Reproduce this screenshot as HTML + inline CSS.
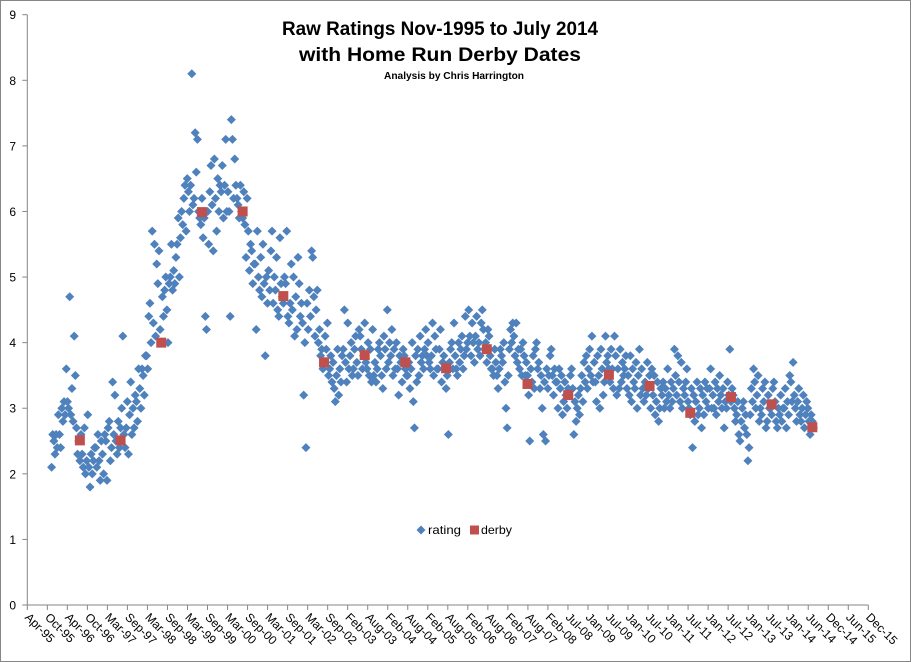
<!DOCTYPE html>
<html><head><meta charset="utf-8"><style>
html,body{margin:0;padding:0;background:#fff}
svg{display:block;font-family:"Liberation Sans",sans-serif}
</style></head><body>
<svg id="chart" width="911" height="662" viewBox="0 0 911 662">
<rect x="0.5" y="0.5" width="910" height="661" fill="#fff" stroke="#868686"/>
<text x="440" y="35" text-anchor="middle" font-size="19" font-weight="bold" textLength="316" lengthAdjust="spacingAndGlyphs">Raw Ratings Nov-1995 to July 2014</text>
<text x="440" y="61" text-anchor="middle" font-size="19" font-weight="bold" textLength="282" lengthAdjust="spacingAndGlyphs">with Home Run Derby Dates</text>
<text x="454" y="79" text-anchor="middle" font-size="10" font-weight="bold" textLength="140" lengthAdjust="spacingAndGlyphs">Analysis by Chris Harrington</text>
<g id="axes"></g>
<g id="marks"></g>
<g>
<path d="M421,525.5 L425.5,530 L421,534.5 L416.5,530 Z" fill="#4F81BD"/>
<text x="428" y="534" font-size="12" textLength="33" lengthAdjust="spacingAndGlyphs">rating</text>
<rect x="470" y="525.5" width="9" height="9" fill="#C0504D"/>
<text x="481" y="534" font-size="12" textLength="31" lengthAdjust="spacingAndGlyphs">derby</text>
</g>
</svg>
<script>
// Ratings: one inner array per month, starting Nov 1995 (weekly observations)
const ratingStartYear = 1995;
const ratingStartMonth = 10; // 0-based: November
const ratingMonths = [
[2.1,2.6,2.5],[2.3,2.6,2.4],
[2.9,2.6,2.4],[3.0,2.8,3.1],[2.9,3.6,3.1],[3.0,4.7,2.9],[3.3,2.8,4.1],[3.5,2.7,2.3],[2.5,2.2,2.6],[2.3,2.1,2.7],[2.0,2.2,2.9],[2.1,1.8,2.3],[2.0,2.2,2.4],[2.4,2.1,2.6],
[2.2,1.9,2.5],[2.3,2.0,2.6],[2.5,1.9,2.7],[2.8,2.2,2.4],[3.4,2.6,3.2],[2.5,2.3,2.8],[2.4,2.7,3.0],[4.1,2.6,2.4],[2.7,3.1,2.3],[2.9,3.4,2.6],[3.0,2.7,3.2],[3.1,2.8,3.6],
[3.3,3.0,3.6],[3.5,3.2,3.8],[3.8,3.6,4.4],[4.6,4.0,5.7],[4.3,5.5,4.1],[5.2,4.9,5.4],[4.2,4.0,4.7],[4.4,4.8,5.0],[4.5,4.0,4.9],[5.0,5.5,4.8],[5.1,4.9,5.3],[5.5,5.9,5.0],
[5.6,6.0,5.8],[6.2,6.4,5.7],[6.5,6.3,6.0],[6.4,8.1,6.1],[6.2,7.2,6.6],[7.1,6.0,5.9],[5.8,6.2,5.6],[5.9,4.4,4.2],[6.0,5.5,6.3],[6.7,6.1,5.4],[6.8,6.2,5.7],[6.5,6.0,6.4],
[6.3,6.7,5.9],[6.4,7.1,6.0],[6.3,6.0,4.4],[7.4,7.1,6.2],[6.8,6.4,6.2],[6.1,5.9,6.4],[6.0,5.9,6.3],[5.8,5.3,6.2],[5.7,5.1,5.5],[5.4,4.9,5.2],[5.2,4.2,5.7],[5.0,4.8,5.3],
[4.7,5.5,4.9],[3.8,5.0,4.6],[5.1,4.8,5.4],[5.7,4.6,5.0],[4.8,5.3,4.5],[4.4,5.6,4.9],[4.7,4.6,5.0],[4.9,5.7,4.4],[4.3,4.6,5.2],[4.5,5.0,4.1],[4.7,4.2,5.3],[4.9,4.4,4.6],
[4.3,3.2,4.0],[2.4,4.6,4.2],[4.8,4.4,5.4],[5.3,4.7,4.1],[4.5,4.8,4.0],[4.2,3.8,3.9],[3.6,3.7,4.1],[3.9,4.3,3.5],[3.6,3.8,3.4],[3.7,3.3,3.1],[3.5,3.9,3.2],[3.6,3.4,3.8],
[3.9,4.5,3.7],[3.4,4.3,3.6],[3.8,4.0,3.5],[3.6,3.9,4.1],[3.7,3.5,4.2],[4.1,3.9,3.6],[3.8,4.3,3.7],[3.6,4.0,3.5],[3.9,3.4,4.2],[3.5,3.7,3.4],[3.6,3.9,4.0],[3.8,3.5,3.3],
[4.1,3.9,3.6],[4.5,3.7,4.0],[3.8,4.2,3.5],[3.9,3.6,4.0],[3.6,3.2,3.8],[3.7,3.4,3.9],[3.8,3.6,3.5],[3.5,3.7,3.3],[3.6,4.0,3.1],[2.7,3.8,3.4],[3.9,3.5,4.1],[3.7,3.8,3.6],
[3.9,4.2,3.8],[4.0,3.7,3.6],[3.8,4.3,3.5],[4.1,3.9,3.6],[3.6,3.9,4.2],[3.4,3.7,3.8],[3.6,3.3,3.5],[2.6,3.7,3.9],[4.0,3.6,4.3],[3.8,3.6,3.5],[4.0,3.7,3.9],[4.1,3.6,3.8],
[4.4,3.9,4.0],[4.5,4.1,3.8],[4.3,4.0,3.7],[4.1,4.4,3.9],[4.0,3.8,4.3],[4.5,4.2,3.9],[4.0,3.7,4.2],[4.1,3.8,3.6],[3.6,3.5,3.9],[3.7,3.5,3.3],[3.6,3.9,3.8],[3.7,4.0,3.4],
[3.0,2.7,3.5],[3.9,4.2,4.0],[4.3,4.1,3.8],[4.3,3.7,3.9],[3.6,3.9,3.5],[4.0,3.8,3.5],[3.7,3.5,3.2],[2.5,3.6,3.4],[3.8,3.3,3.9],[4.0,3.6,3.7],[3.3,3.5,3.0],[2.6,3.4,2.5],
[3.6,3.3,3.5],[3.8,3.9,3.5],[3.2,3.6,3.4],[3.4,3.0,3.6],[3.3,3.5,2.9],[3.1,3.4,3.2],[3.0,3.3,3.2],[3.5,3.6,3.3],[2.6,3.1,2.8],[3.0,3.2,2.9],[3.3,3.5,3.1],[3.7,3.4,3.8],
[3.3,3.6,3.9],[3.5,4.1,3.4],[3.7,3.4,3.1],[3.8,3.5,3.0],[3.9,3.6,3.2],[3.4,4.1,3.7],[3.8,3.6,3.4],[3.9,3.6,3.3],[4.1,3.8,3.2],[3.6,3.3,3.9],[3.4,3.7,3.5],[3.6,3.8,3.3],
[3.5,3.2,3.8],[3.1,3.6,3.4],[3.3,3.7,3.0],[3.5,3.9,3.2],[3.6,3.3,3.1],[3.4,3.2,3.7],[3.3,3.5,3.0],[3.6,3.2,3.5],[2.9,3.1,3.4],[2.8,3.0,3.3],[3.2,3.4,3.0],[3.3,3.1,3.6],
[3.2,3.0,3.4],[3.1,3.3,3.9],[3.5,3.2,3.8],[3.4,3.1,3.7],[3.0,3.3,3.2],[3.4,3.6,3.1],[3.0,2.9,3.3],[2.4,3.2,2.8],[3.1,3.4,2.9],[3.0,3.3,2.7],[3.2,2.9,3.4],[3.1,3.3,3.0],
[3.3,3.6,3.0],[3.2,3.0,3.4],[2.9,3.3,3.1],[3.5,3.2,3.0],[3.3,2.7,3.1],[3.0,3.4,3.2],[3.9,3.1,3.3],[3.2,3.0,2.8],[2.9,3.1,2.6],[2.5,2.8,3.0],[3.1,2.7,2.9],[2.6,2.2,2.4],
[2.9,3.3,3.1],[3.6,3.4,3.0],[3.2,3.5,2.8],[3.0,2.9,3.3],[3.1,3.4,2.7],[2.8,3.2,3.0],[3.0,2.9,3.3],[3.4,3.1,2.8],[2.7,3.0,2.9],[3.2,2.8,3.0],[3.0,3.3,2.7],[3.1,2.9,3.5],
[3.4,3.1,3.7],[3.2,3.0,2.8],[3.1,3.3,2.9],[2.8,3.0,3.2],[2.7,2.9,3.1],[3.0,2.8,2.6],[2.9,2.8,2.7]
];
const derbyYears = [1996,1997,1998,1999,2000,2001,2002,2003,2004,2005,2006,2007,2008,2009,2010,2011,2012,2013,2014];
const derbyValues = [2.51,2.51,4.0,5.99,6.0,4.71,3.70,3.81,3.70,3.61,3.90,3.37,3.20,3.51,3.34,2.93,3.17,3.06,2.71];
const yTicks = [0,1,2,3,4,5,6,7,8,9];
const xTickLabels = ["Apr-95","Oct-95","Apr-96","Oct-96","Mar-97","Sep-97","Mar-98","Sep-98","Mar-99","Sep-99","Mar-00","Sep-00","Mar-01","Sep-01","Mar-02","Sep-02","Feb-03","Aug-03","Feb-04","Aug-04","Feb-05","Aug-05","Feb-06","Aug-06","Feb-07","Aug-07","Feb-08","Jul-08","Jan-09","Jul-09","Jan-10","Jul-10","Jan-11","Jul-11","Jan-12","Jul-12","Jan-13","Jul-13","Jan-14","Jun-14","Dec-14","Jun-15","Dec-15"];

const NS = "http://www.w3.org/2000/svg";
const X0 = 27.3, X1 = 868.3, Y0 = 605, Y9 = 14.7;
const PX_PER_MONTH = (X1 - X0) / 248;
function xScale(monthsSinceJan1995){ return X0 + (monthsSinceJan1995 - 3) * PX_PER_MONTH; }
function yScale(v){ return Y0 - v * (Y0 - Y9) / 9; }
function mk(tag, attrs, parent){ const e = document.createElementNS(NS, tag); for (const k in attrs) e.setAttribute(k, attrs[k]); parent.appendChild(e); return e; }

const axes = document.getElementById('axes');
const marks = document.getElementById('marks');

const yAxis = mk('line', {x1:X0, y1:Y9, x2:X0, y2:Y0, stroke:'#868686', 'stroke-width':1}, axes);


const xAxis = mk('line', {x1:X0, y1:Y0, x2:X1, y2:Y0, stroke:'#868686', 'stroke-width':1}, axes);



yTicks.forEach(function(t){
  const y = yScale(t);
  const tk = mk('line', {x1:X0-5, y1:y, x2:X0, y2:y, stroke:'#868686'}, axes);
  
  
  const lb = mk('text', {x:16, y:y+4.5, 'text-anchor':'end', 'font-size':12, fill:'#000'}, axes);
  lb.textContent = t;
  
  
});

const step = (X1 - X0) / (xTickLabels.length - 1);
xTickLabels.forEach(function(s, i){
  const x = X0 + i * step;
  const tk = mk('line', {x1:x, y1:Y0, x2:x, y2:Y0+5, stroke:'#868686'}, axes);
  
  
  const lb = mk('text', {x:0, y:0, 'font-size':12, fill:'#000', transform:'translate('+(x-3)+','+(Y0+13)+') rotate(45)'}, axes);
  lb.textContent = s;
  
  
});

ratingMonths.forEach(function(vals, mi){
  const m = (ratingStartYear - 1995) * 12 + ratingStartMonth + mi;
  vals.forEach(function(v, j){
    const x = xScale(m + (j + 0.5) / vals.length);
    const y = yScale(v);
    const p = mk('path', {d:'M'+x+','+(y-4.5)+' L'+(x+4.5)+','+y+' L'+x+','+(y+4.5)+' L'+(x-4.5)+','+y+' Z', fill:'#4F81BD'}, marks);
    
    
  });
});

derbyYears.forEach(function(yr, i){
  const x = xScale((yr - 1995) * 12 + 6.5);
  const y = yScale(derbyValues[i]);
  const r = mk('rect', {x:x-5, y:y-5, width:10, height:10, fill:'#C0504D'}, marks);
  
  
});
</script>
</body></html>
